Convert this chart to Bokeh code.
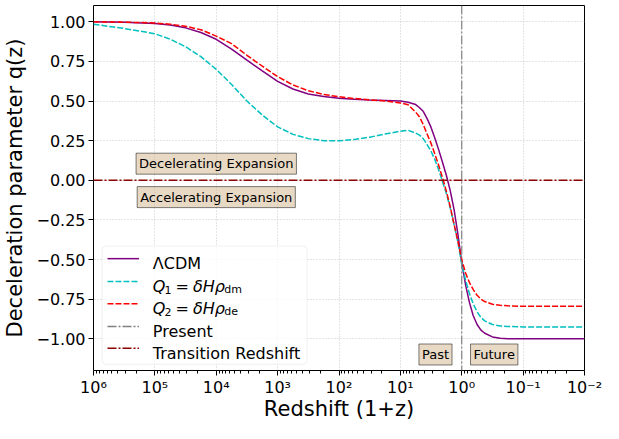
import numpy as np
from bokeh.plotting import figure
from bokeh.models import Range1d, FixedTicker, Span, Label, BoxAnnotation
from bokeh.embed import file_html
from bokeh.resources import INLINE

# ---- data: log10(1+z) and q(z) for each model ----
log_1pz = [6.0, 5.5, 5.0, 4.75, 4.5, 4.25, 4.0, 3.75, 3.5, 3.25, 3.0, 2.75, 2.5, 2.25,
           2.0, 1.75, 1.5, 1.25, 1.0, 0.875, 0.75, 0.6875, 0.625, 0.5625, 0.5, 0.4375,
           0.375, 0.3125, 0.25, 0.1875, 0.125, 0.0625, 0.0, -0.0625, -0.125, -0.1875,
           -0.25, -0.3125, -0.375, -0.5, -0.625, -0.75, -1.0, -2.0]
q_lcdm = [1.000, 0.997, 0.990, 0.980, 0.962, 0.933, 0.890, 0.828, 0.758, 0.690, 0.624,
          0.576, 0.545, 0.529, 0.518, 0.511, 0.506, 0.503, 0.500, 0.493, 0.478, 0.458,
          0.434, 0.388, 0.334, 0.265, 0.192, 0.112, 0.030, -0.065, -0.185, -0.340,
          -0.520, -0.660, -0.770, -0.855, -0.910, -0.945, -0.965, -0.988, -0.996,
          -0.999, -1.000, -1.000]
q_q1 = [0.985, 0.958, 0.925, 0.890, 0.843, 0.780, 0.700, 0.605, 0.500, 0.412, 0.337,
        0.290, 0.263, 0.250, 0.249, 0.258, 0.272, 0.292, 0.310, 0.316, 0.298, 0.285,
        0.262, 0.224, 0.183, 0.130, 0.065, -0.010, -0.085, -0.175, -0.280, -0.390,
        -0.530, -0.630, -0.715, -0.780, -0.830, -0.865, -0.887, -0.910, -0.919,
        -0.922, -0.925, -0.925]
q_q2 = [1.000, 0.998, 0.993, 0.985, 0.972, 0.950, 0.910, 0.862, 0.789, 0.720, 0.654,
        0.602, 0.565, 0.542, 0.527, 0.516, 0.508, 0.500, 0.488, 0.477, 0.430, 0.400,
        0.350, 0.290, 0.233, 0.165, 0.093, 0.015, -0.070, -0.167, -0.277, -0.385,
        -0.500, -0.585, -0.645, -0.690, -0.725, -0.750, -0.765, -0.782, -0.789,
        -0.792, -0.795, -0.795]
present_1pz = 1.0
transition_q = 0.0

x_tick_exps = [6, 5, 4, 3, 2, 1, 0, -1, -2]
x_tick_labels = ["10⁶", "10⁵", "10⁴", "10³", "10²", "10¹", "10⁰", "10⁻¹", "10⁻²"]
y_ticks = [-1.0, -0.75, -0.5, -0.25, 0.0, 0.25, 0.5, 0.75, 1.0]
y_tick_labels = ["−1.00", "−0.75", "−0.50", "−0.25", "0.00", "0.25", "0.50", "0.75", "1.00"]

x = [10 ** v for v in log_1pz]
FONT = "DejaVu Sans"

p = figure(width=603, height=423, x_axis_type="log",
           x_range=Range1d(1e6, 1e-2), y_range=Range1d(-1.200, 1.103),
           output_backend="svg", toolbar_location=None,
           min_border_left=93, min_border_right=19, min_border_top=5, min_border_bottom=0)
p.background_fill_color = "white"
p.border_fill_color = "white"
p.outline_line_color = "black"
p.outline_line_width = 1

major = [10.0 ** e for e in x_tick_exps]
minor = [k * 10.0 ** e for e in range(-2, 6) for k in range(2, 10)]
p.xaxis.ticker = FixedTicker(ticks=major, minor_ticks=minor)
p.xaxis.major_label_overrides = {t: l for t, l in zip(major, x_tick_labels)}
p.yaxis.ticker = FixedTicker(ticks=y_ticks)
p.yaxis.major_label_overrides = {t: l for t, l in zip(y_ticks, y_tick_labels)}

for ax in (p.xaxis, p.yaxis):
    ax.axis_line_color = None
    ax.major_tick_in = 0
    ax.major_tick_out = 5
    ax.major_tick_line_color = "black"
    ax.major_label_text_font = FONT
    ax.major_label_text_font_size = "16px"
    ax.major_label_text_color = "black"
    ax.major_label_text_line_height = 1.0
    ax.axis_label_text_font = FONT
    ax.axis_label_text_font_size = "21px"
    ax.axis_label_text_font_style = "normal"
    ax.axis_label_text_color = "black"
    ax.axis_label_text_line_height = 1.0
    ax.major_label_standoff = 3
    ax.axis_label_standoff = 6
p.xaxis.major_label_standoff = 2
p.xaxis.axis_label_standoff = -3
p.xaxis.minor_tick_in = 0
p.xaxis.minor_tick_out = 3
p.xaxis.minor_tick_line_color = "black"
p.yaxis.minor_tick_line_color = None
p.xaxis.axis_label = "Redshift (1+z)"
p.yaxis.axis_label = "Deceleration parameter q(z)"

for g in (p.xgrid, p.ygrid):
    g.grid_line_color = "#c8c8c8"
    g.grid_line_dash = "1 2"
    g.grid_line_width = 1

p.line(x, q_lcdm, line_color="purple", line_width=1.5)
p.line(x, q_q1, line_color="#00bfbf", line_width=1.5, line_dash="6 2")
p.line(x, q_q2, line_color="red", line_width=1.5, line_dash="6 2")

p.add_layout(Span(location=present_1pz, dimension="height", line_color="gray",
                  line_width=1.2, line_dash="9 2 2 2"))
p.add_layout(Span(location=transition_q, dimension="width", line_color="darkred",
                  line_width=1.5, line_dash="9 2 2 2"))

def box_label(xv, yv, txt):
    p.add_layout(Label(x=xv, y=yv, text=txt, text_align="center", text_baseline="middle",
                       text_font=FONT, text_font_size="13px", text_color="black",
                       background_fill_color="tan", background_fill_alpha=0.5,
                       border_line_color="black", border_line_alpha=0.5, padding=3))

box_label(1e4, 0.105, "Decelerating Expansion")
box_label(1e4, -0.106, "Accelerating Expansion")
box_label(10 ** 0.428, -1.099, "Past")
box_label(10 ** -0.529, -1.099, "Future")

# ---- legend (built by hand to allow subscripts) ----
def vy(py):
    return (190.5 - py) / 166.3

def lxp(px):
    return 10 ** (6 - (px - 93) / 61.375)

p.add_layout(BoxAnnotation(left=lxp(101.7), right=lxp(306.5), top=vy(259.5), bottom=vy(383.5),
                           fill_color="white", fill_alpha=0.8, line_color="#cccccc",
                           line_width=1, border_radius=4, level="annotation"))

rows_py = [272.7, 296.7, 320.0, 344.0, 366.7]
styles = [("purple", None), ("#00bfbf", "6 2"), ("red", "6 2"), ("gray", "9 2 2 2"),
          ("darkred", "9 2 2 2")]
for py, (c, d) in zip(rows_py, styles):
    kw = dict(line_color=c, line_width=1.5)
    if d:
        kw["line_dash"] = d
    p.segment(x0=[lxp(107)], y0=[vy(py)], x1=[lxp(138.5)], y1=[vy(py)], level="overlay", **kw)

def txt(px, py, s, size="16px", style="normal"):
    p.add_layout(Label(x=lxp(px), y=vy(py), text=s, text_align="left",
                       text_baseline="alphabetic", text_font=FONT, text_font_size=size,
                       text_font_style=style, text_color="black"))

txt(152.3, rows_py[0] + 5.5, "ΛCDM")
for py, sub_n, sub_s in ((rows_py[1], "1", "dm"), (rows_py[2], "2", "de")):
    txt(152.3, py + 5.5, "Q", style="italic")
    txt(164.0, py + 8.5, sub_n, size="11px")
    txt(175.0, py + 5.5, "=")
    txt(192.5, py + 5.5, "δHρ", style="italic")
    txt(223.8, py + 8.5, sub_s, size="11px")
txt(152.3, rows_py[3] + 5.5, "Present")
txt(152.3, rows_py[4] + 5.5, "Transition Redshift")

open("out.html", "w").write(file_html(p, INLINE))
